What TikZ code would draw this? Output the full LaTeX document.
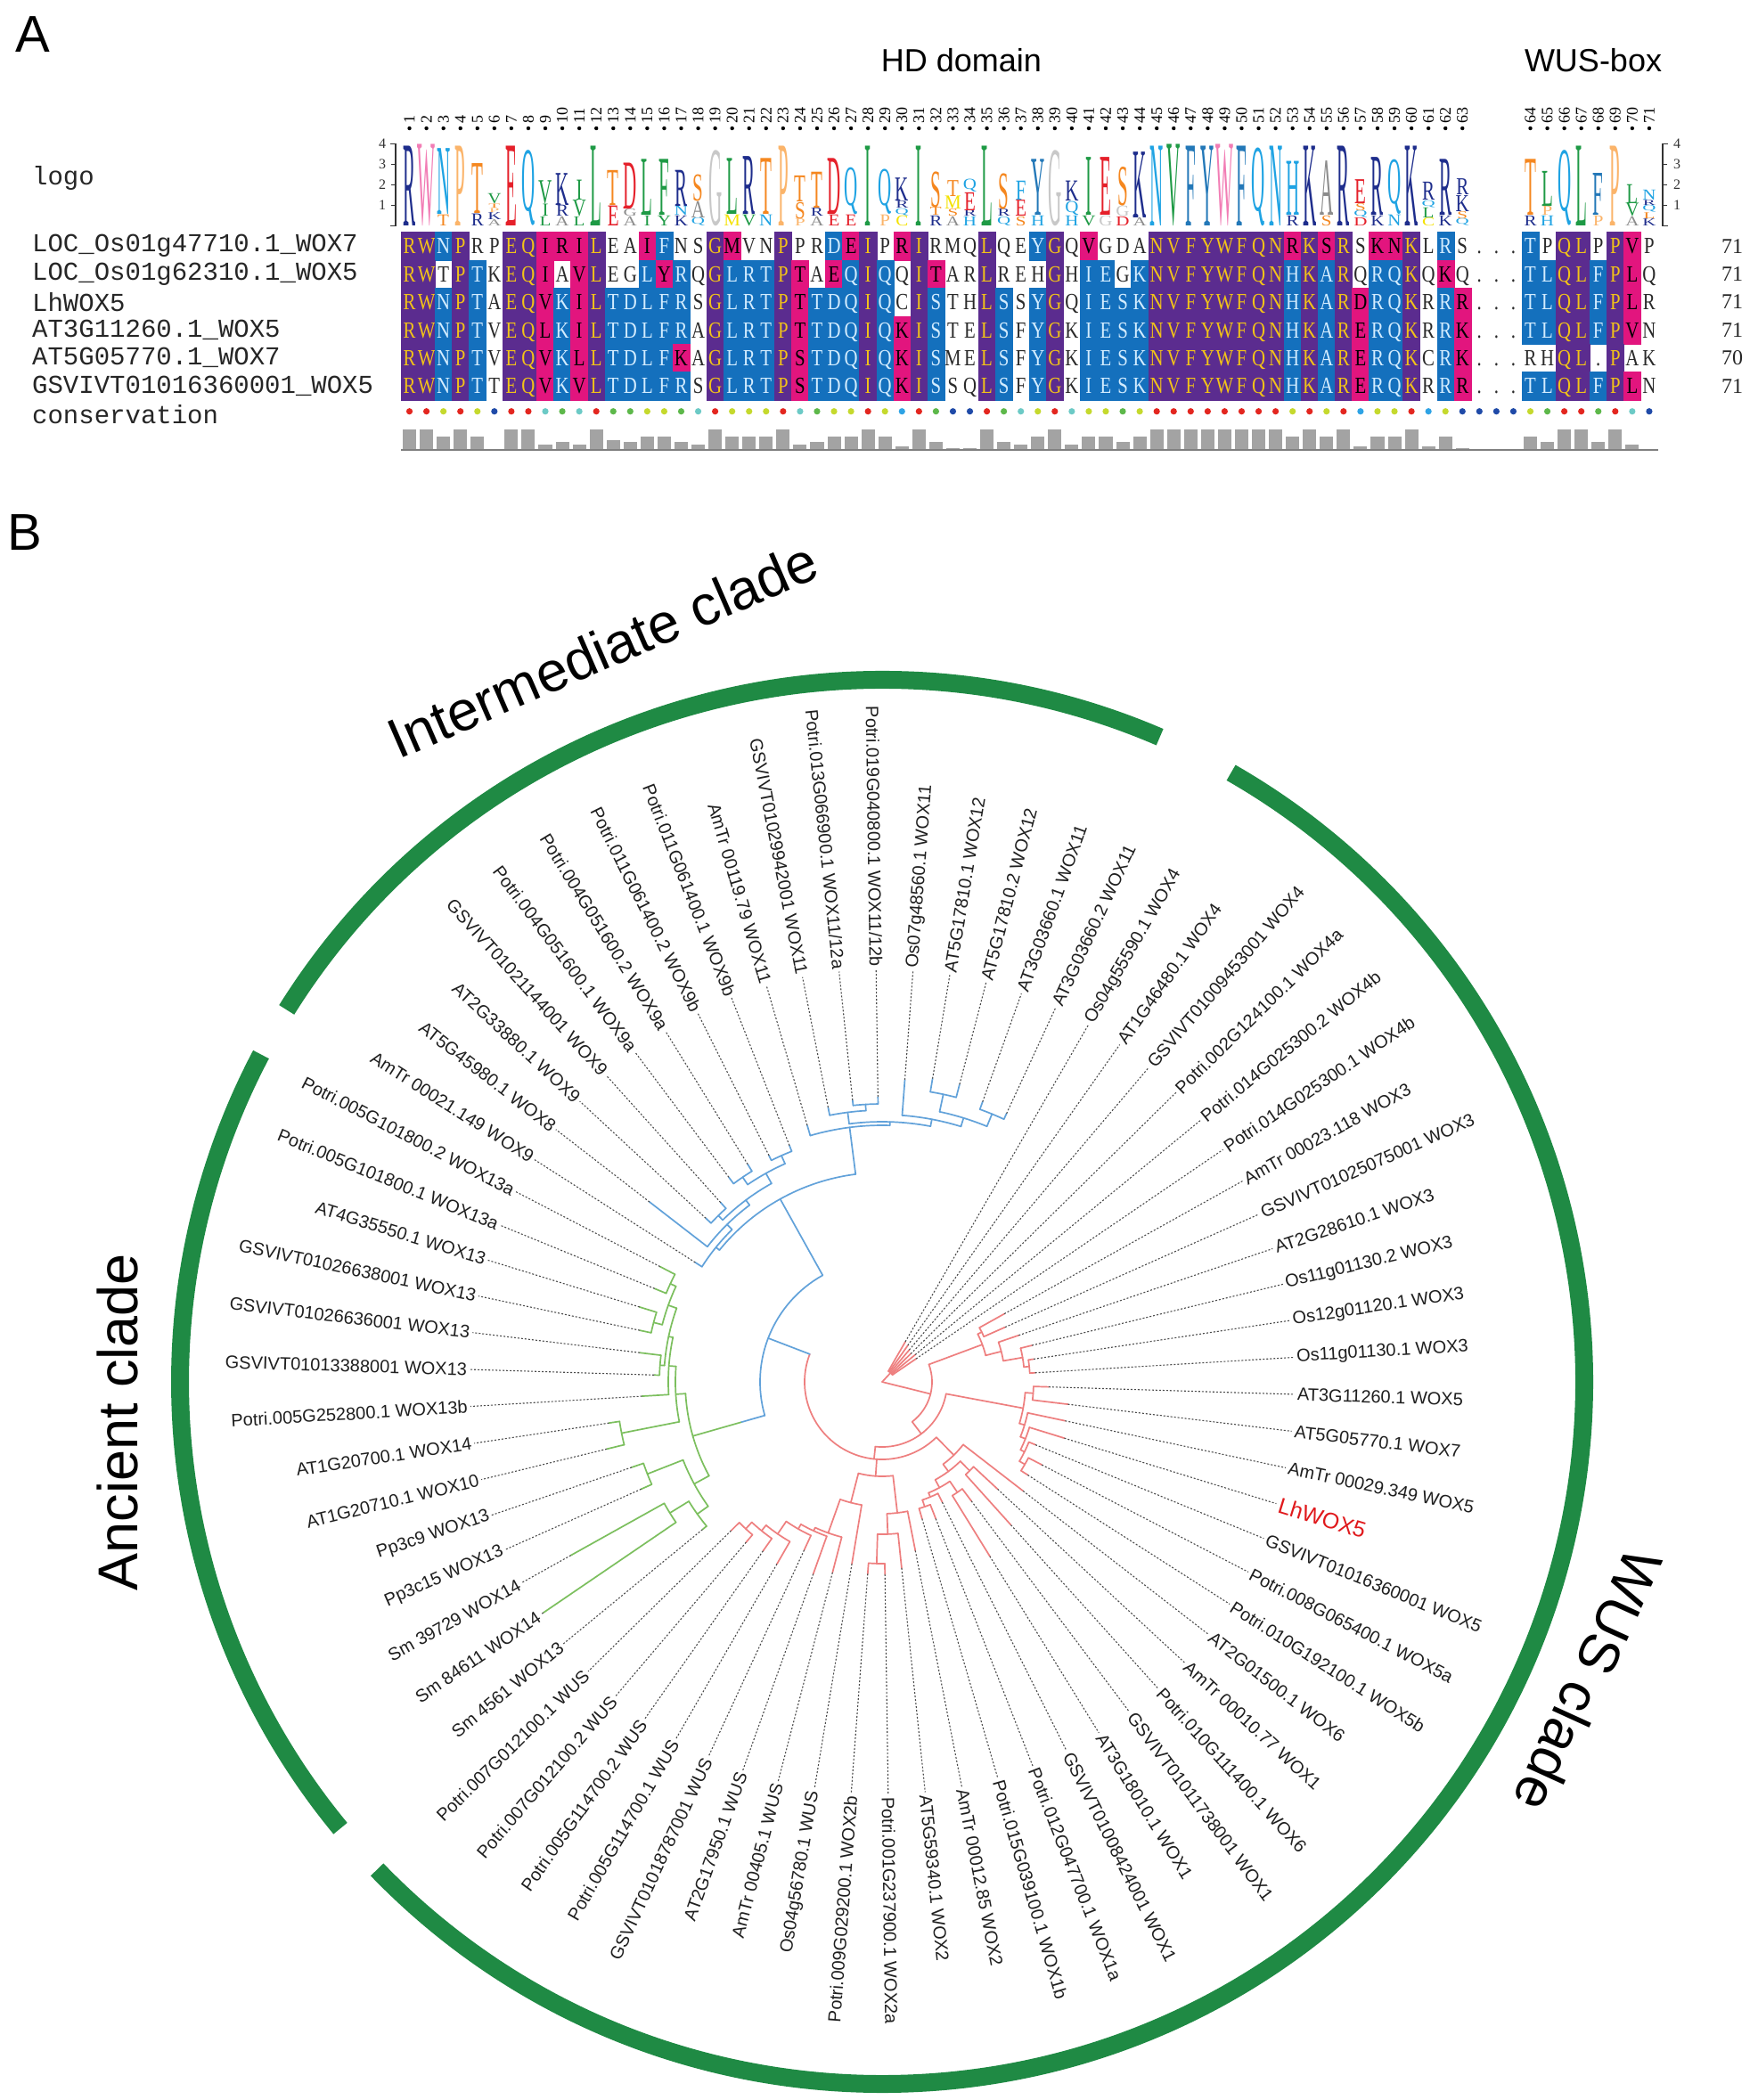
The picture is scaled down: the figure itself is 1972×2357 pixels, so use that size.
\documentclass[tikz,border=0pt]{standalone}
\usepackage{fontspec}
\usepackage{graphicx}
\setmainfont{Liberation Serif}
\newfontfamily\sansf{Liberation Sans}
\newfontfamily\monof{Liberation Mono}
% alignment colours
\definecolor{alP}{HTML}{5B2C8F}
\definecolor{alB}{HTML}{1470BD}
\definecolor{alM}{HTML}{E2157E}
\definecolor{alPt}{HTML}{F2C318}
\definecolor{alBt}{HTML}{D2ECFF}
\definecolor{alWt}{HTML}{2A2A2A}
% logo colours
\definecolor{lgnv}{HTML}{1E2D8C}
\definecolor{lgpk}{HTML}{F27DB5}
\definecolor{lglb}{HTML}{1FA3E3}
\definecolor{lgor}{HTML}{F5871F}
\definecolor{lglo}{HTML}{FBB46A}
\definecolor{lgrd}{HTML}{E5202A}
\definecolor{lggn}{HTML}{1E9A45}
\definecolor{lgmb}{HTML}{2378B8}
\definecolor{lggy}{HTML}{8C8C8C}
\definecolor{lglg}{HTML}{C8C8C8}
\definecolor{lgyl}{HTML}{F4E200}
% conservation dots
\definecolor{dR}{HTML}{E3261F}
\definecolor{dY}{HTML}{C5D92D}
\definecolor{dG}{HTML}{5DB84A}
\definecolor{dT}{HTML}{6CCAC6}
\definecolor{dL}{HTML}{2EA3E5}
\definecolor{dB}{HTML}{1F4AA8}
\definecolor{bargy}{HTML}{A3A3A3}
% tree
\definecolor{trR}{HTML}{EE7F7F}
\definecolor{trB}{HTML}{62A2DA}
\definecolor{trG}{HTML}{7CBF5E}
\definecolor{cladegreen}{HTML}{1F8A44}
\definecolor{lhred}{HTML}{E0191C}

\newcommand\alfont{\fontsize{26bp}{28bp}\selectfont}
\newcount\slotc

\tikzset{
  cellP/.style={fill=alP,draw=alP,line width=.3bp},
  cellB/.style={fill=alB,draw=alB,line width=.3bp},
  cellM/.style={fill=alM,draw=alM,line width=.3bp},
  cellW/.style={},
  cellG/.style={},
  txtP/.style={text=alPt},
  txtB/.style={text=alBt},
  txtM/.style={text=black},
  txtW/.style={text=alWt},
  txtG/.style={text=alWt},
  rowlab/.style={font=\monof\fontsize{29bp}{31bp}\selectfont,anchor=west,inner sep=0pt,text=black!85},
  rb/.style={draw=trR,line width=1.7bp,line cap=round},
  bb/.style={draw=trB,line width=1.7bp,line cap=round},
  gb/.style={draw=trG,line width=1.7bp,line cap=round},
  dotl/.style={draw=black!70,line width=1.1bp,dash pattern=on 2bp off 2bp},
  leaflab/.style={font=\sansf\fontsize{20bp}{24bp}\selectfont,inner sep=1bp,text=black!88},
  cladearc/.style={draw=cladegreen,line width=20bp},
  cladelab/.style={font=\sansf\fontsize{63bp}{66bp}\selectfont,inner sep=0pt,text=black},
}

% one alignment cell
\newcommand\alcell[2]{%
  \pgfmathsetmacro\cx{450+(\the\slotc-1)*19.06}%
  \pgfmathsetmacro\cy{-260.5-(\rowc-1)*31.4}%
  \path[cell#2] (\cx,\cy) rectangle ++(19.06,-31.4);%
  \node[txt#2,anchor=base,inner sep=0pt] (a\rowc-\the\slotc) at (\cx+9.53,\cy-24.3) {\alfont\scalebox{0.8}[1]{#1}};%
}
\def\alnext#1#2\relax#3#4\relax{%
  \global\advance\slotc by 1
  \alcell{#1}{#3}%
  \ifx\relax#2\relax\else\alnext#2\relax#4\relax\fi}
\newcommand\alrow[3]{\global\slotc=0 \def\rowc{#1}\alnext#2\relax#3\relax}

% one logo column, letters bottom to top: letter/colour/bits
\newcommand\lcol[2]{%
  \gdef\lcum{0}%
  \foreach \lL/\lC/\lH in {#2}{%
    \pgfmathsetmacro\ly{-253.3+\lcum*22.9}%
    \def\lratio{0.67}\if Q\lL\def\lratio{0.86}\fi
    \pgfmathsetmacro\lF{\lH*22.9/\lratio}%
    \pgfmathsetmacro\lsx{21/\lF}%
    \node[inner sep=0pt,anchor=base] (lg#1\lL) at ({450+(#1-0.5)*19.06},\ly)
      {\scalebox{\lsx}[1]{\raisebox{\depth}{\textcolor{lg\lC}{\fontsize{\lF bp}{\lF bp}\selectfont\lL}}}};%
    \pgfmathsetmacro\tmp{\lcum+\lH}\global\let\lcum\tmp
  }}

% tree helpers (inside shifted scope)
\newcommand\tb[4]{\draw[#1] (#2:#3) -- (#2:#4);}
\newcommand\ta[4]{\draw[#1] (#3:#2) arc[start angle=#3,end angle=#4,radius=#2];}
\newcommand\lR[4]{\draw[dotl] (#2:#3) -- (#2:463); \node[leaflab,anchor=west,rotate=#2] (#1) at (#2:465) {#4};}
\newcommand\lL[4]{\draw[dotl] (#2:#3) -- (#2:463); \node[leaflab,anchor=east,rotate=#2+180] (#1) at (#2:465) {#4};}

\begin{document}
\begin{tikzpicture}[x=1bp,y=1bp]
\useasboundingbox (0,0) rectangle (1972,-2357);
\fill[white] (0,0) rectangle (1972,-2357);

% ================= Panel A =================
\node[font=\sansf\fontsize{58bp}{60bp}\selectfont,inner sep=0pt] (tA) at (37,-39) {A};
\node[font=\sansf\fontsize{36bp}{40bp}\selectfont,inner sep=0pt] (hd) at (1079,-68) {HD domain};
\node[font=\sansf\fontsize{36bp}{40bp}\selectfont,inner sep=0pt] (wb) at (1788,-68) {WUS-box};

% column numbers
\foreach \n in {1,...,71}{
  \pgfmathsetmacro\csl{\n>63 ? \n+3 : \n}
  \fill[black] ({450+(\csl-0.5)*19.06},-144) circle (2.2);
  \node[font=\fontsize{18bp}{20bp}\selectfont,rotate=90,anchor=west,inner sep=0pt] (cn\n) at ({450+(\csl-0.5)*19.06},-139) {\n};
}

% logo axes
\draw[black!80,line width=1.2bp] (438,-161.7) -- (444,-161.7) -- (444,-253.3) -- (438,-253.3);
\draw[black!80,line width=1.2bp] (1872,-161.7) -- (1866,-161.7) -- (1866,-253.3) -- (1872,-253.3);
\foreach \k in {1,2,3}{
  \draw[black!80,line width=1.2bp] (439,{-253.3+\k*22.9}) -- (444,{-253.3+\k*22.9});
  \draw[black!80,line width=1.2bp] (1866,{-253.3+\k*22.9}) -- (1871,{-253.3+\k*22.9});
}
\foreach \k in {1,...,4}{
  \node[font=\fontsize{16bp}{18bp}\selectfont,inner sep=0pt,text=black!80] (axl\k) at (429,{-253.3+\k*22.9}) {\k};
  \node[font=\fontsize{16bp}{18bp}\selectfont,inner sep=0pt,text=black!80] (axr\k) at (1882,{-253.3+\k*22.9}) {\k};
}

% sequence logo
\lcol{1}{R/nv/4.0}
\lcol{2}{W/pk/4.0}
\lcol{3}{T/or/0.55,N/lb/3.3}
\lcol{4}{P/lo/4.0}
\lcol{5}{R/nv/0.6,T/or/2.5}
\lcol{6}{A/gy/0.3,K/nv/0.35,P/lo/0.2,T/or/0.2,V/gn/0.5}
\lcol{7}{E/rd/4.0}
\lcol{8}{Q/lb/3.85}
\lcol{9}{L/gn/0.45,I/gn/0.6,V/gn/1.15}
\lcol{10}{A/gy/0.45,R/nv/0.55,K/nv/1.6}
\lcol{11}{L/gn/0.45,V/gn/0.8,I/gn/1.0}
\lcol{12}{L/gn/4.0}
\lcol{13}{E/rd/1.0,T/or/1.75}
\lcol{14}{A/gy/0.45,G/gy/0.35,D/rd/2.3}
\lcol{15}{I/gn/0.5,L/gn/2.8}
\lcol{16}{Y/gn/0.5,F/gn/2.8}
\lcol{17}{K/nv/0.5,N/lb/0.45,R/nv/1.8}
\lcol{18}{Q/lb/0.4,A/gy/0.8,S/or/1.3}
\lcol{19}{G/lg/3.7}
\lcol{20}{M/yl/0.55,L/gn/2.8}
\lcol{21}{V/gn/0.55,R/nv/2.9}
\lcol{22}{N/lb/0.55,T/or/2.8}
\lcol{23}{P/lo/4.0}
\lcol{24}{P/lo/0.35,S/or/0.8,T/or/1.3}
\lcol{25}{A/gy/0.45,R/nv/0.4,T/or/1.8}
\lcol{26}{E/rd/0.55,D/rd/2.8}
\lcol{27}{E/rd/0.55,Q/lb/2.4}
\lcol{28}{I/gn/4.0}
\lcol{29}{P/lo/0.55,Q/lb/2.3}
\lcol{30}{C/yl/0.5,Q/lb/0.35,R/nv/0.35,K/nv/1.15}
\lcol{31}{I/gn/4.0}
\lcol{32}{R/nv/0.5,T/or/0.4,S/or/1.75}
\lcol{33}{A/gy/0.45,S/or/0.35,M/yl/0.65,T/or/0.8}
\lcol{34}{H/lb/0.45,R/nv/0.3,E/rd/0.9,Q/lb/0.65}
\lcol{35}{L/gn/4.0}
\lcol{36}{Q/lb/0.45,R/nv/0.35,S/or/1.75}
\lcol{37}{S/or/0.45,E/rd/0.8,F/lb/0.95}
\lcol{38}{H/lb/0.5,Y/mb/2.8}
\lcol{39}{G/lg/3.7}
\lcol{40}{H/lb/0.5,Q/lb/0.7,K/nv/1.0}
\lcol{41}{V/gn/0.5,I/gn/2.9}
\lcol{42}{G/lg/0.5,E/rd/2.9}
\lcol{43}{D/rd/0.45,G/lg/0.5,S/or/1.9}
\lcol{44}{A/gy/0.4,K/nv/3.3}
\lcol{45}{N/lb/4.0}
\lcol{46}{V/gn/4.0}
\lcol{47}{F/mb/4.0}
\lcol{48}{Y/mb/4.0}
\lcol{49}{W/pk/4.0}
\lcol{50}{F/mb/4.0}
\lcol{51}{Q/lb/4.0}
\lcol{52}{N/lb/4.0}
\lcol{53}{R/nv/0.5,H/lb/2.7}
\lcol{54}{K/nv/4.0}
\lcol{55}{S/or/0.5,A/gy/2.7}
\lcol{56}{R/nv/4.0}
\lcol{57}{D/rd/0.4,Q/lb/0.35,S/or/0.35,E/rd/1.2}
\lcol{58}{K/nv/0.5,R/nv/2.9}
\lcol{59}{N/lb/0.55,Q/lb/2.8}
\lcol{60}{K/nv/4.0}
\lcol{61}{C/yl/0.4,L/gn/0.5,Q/lb/0.35,R/nv/0.9}
\lcol{62}{K/nv/0.5,R/nv/2.8}
\lcol{63}{Q/lb/0.35,S/or/0.35,K/nv/0.8,R/nv/0.8}
\lcol{67}{R/nv/0.5,T/or/2.8}
\lcol{68}{H/lb/0.5,P/lo/0.45,L/gn/1.75}
\lcol{69}{Q/lb/3.85}
\lcol{70}{L/gn/4.0}
\lcol{71}{P/lo/0.5,F/mb/2.1}
\lcol{72}{P/lo/4.0}
\lcol{73}{A/gy/0.45,V/gn/0.65,L/gn/0.95}
\lcol{74}{K/nv/0.35,L/or/0.3,Q/lb/0.35,R/nv/0.25,N/lb/0.5}

% alignment rows
\alrow{1}{RWNPRPEQIR ILEAIFNSGM VNPPRDEIPR IRMQLQEYGQ VGDANVFYWF QNRKSRSKNK LRS ... TPQLPPVP}%
         {PPBPWWPPMM MPWWMBWWPM WWPWWBMPWM PWWWPWWBPW MWWWPPPPPP PPMPMPWMMP WBW GGG BWPPWPMW}
\alrow{2}{RWTPTKEQIA VLEGLYRQGL RTPTAEQIQQ ITARLREHGH IEGKNVFYWF QNHKARQRQK QKQ ... TLQLFPLQ}%
         {PPWPBWPPMW MPWWBMBWPB BBPMWMBPBW PMWWPWWWPW BBWBPPPPPP PPBPBPWBBP WMW GGG BBPPBPMW}
\alrow{3}{RWNPTAEQVK ILTDLFRSGL RTPTTDQIQC ISTHLSSYGQ IESKNVFYWF QNHKARDRQK RRR ... TLQLFPLR}%
         {PPBPBWPPMB MPBBBBBWPB BBPMBBBPBW PBWWPBWBPW BBBBPPPPPP PPBPBPMBBP WBM GGG BBPPBPMW}
\alrow{4}{RWNPTVEQLK ILTDLFRAGL RTPTTDQIQK ISTELSFYGK IESKNVFYWF QNHKARERQK RRK ... TLQLFPVN}%
         {PPBPBWPPMB MPBBBBBWPB BBPMBBBPBM PBWWPBWBPW BBBBPPPPPP PPBPBPMBBP WBM GGG BBPPBPMW}
\alrow{5}{RWNPTVEQVK LLTDLFKAGL RTPSTDQIQK ISMELSFYGK IESKNVFYWF QNHKARERQK CRK ... RHQL.PAK}%
         {PPBPBWPPMB MPBBBBMWPB BBPMBBBPBM PBWWPBWBPW BBBBPPPPPP PPBPBPMBBP WBM GGG WWPPWPWW}
\alrow{6}{RWNPTTEQVK VLTDLFRSGL RTPSTDQIQK ISSQLSFYGK IESKNVFYWF QNHKARERQK RRR ... TLQLFPLN}%
         {PPBPBWPPMB MPBBBBBWPB BBPMBBBPBM PBWWPBWBPW BBBBPPPPPP PPBPBPMBBP WBM GGG BBPPBPMW}

% row labels and lengths
\node[rowlab] (lblogo) at (36,-200) {logo};
\node[rowlab] (rl1) at (36,-276.2) {LOC\_Os01g47710.1\_WOX7};
\node[rowlab] (rl2) at (36,-307.6) {LOC\_Os01g62310.1\_WOX5};
\node[rowlab] (rl3) at (36,-339.0) {LhWOX5};
\node[rowlab] (rl4) at (36,-370.4) {AT3G11260.1\_WOX5};
\node[rowlab] (rl5) at (36,-401.8) {AT5G05770.1\_WOX7};
\node[rowlab] (rl6) at (36,-433.2) {GSVIVT01016360001\_WOX5};
\node[rowlab] (lbcons) at (36,-465) {conservation};
\foreach \v/\yy [count=\i] in {71/276.2,71/307.6,71/339.0,71/370.4,70/401.8,71/433.2}
  \node[font=\fontsize{24bp}{26bp}\selectfont,inner sep=0pt,text=black!85] (len\i) at (1944,-\yy) {\v};

% conservation dots
\foreach \c [count=\s] in {R,R,Y,R,Y,B,R,R,T,G,T,R,G,G,Y,Y,G,T,R,Y,Y,Y,R,T,G,Y,Y,R,Y,L,R,G,B,B,R,G,T,Y,R,T,Y,Y,G,Y,R,R,R,R,R,R,R,R,Y,R,Y,R,L,Y,Y,R,L,Y,B,B,B,B,Y,G,R,R,G,R,T,B}
  \fill[d\c] ({450+(\s-0.5)*19.06},-461.7) circle (3.6);

% conservation bars
\foreach \h [count=\s] in {1,1,.64,1,.64,.04,1,1,.24,.39,.24,1,.46,.39,.64,.64,.39,.24,1,.64,.64,.64,1,.24,.39,.64,.64,1,.64,.19,1,.39,.1,.1,1,.39,.24,.64,1,.24,.64,.64,.39,.64,1,1,1,1,1,1,1,1,.64,1,.64,1,.19,.64,.64,1,.19,.64,.1,0,0,0,.64,.39,1,1,.39,1,.24,.04}
  \fill[bargy] ({450+(\s-1)*19.06+2},-505) rectangle ++(15.06,{\h*23.3});
\draw[black!50,line width=2bp] (450,-505) -- (1861,-505);

% ================= Panel B =================
\node[font=\sansf\fontsize{58bp}{60bp}\selectfont,inner sep=0pt] (tB) at (28,-598) {B};

\begin{scope}[shift={(990,-1551)}]
% clade arcs
\draw[cladearc] (66.7:788) arc[start angle=66.7,end angle=148,radius=788];
\draw[cladearc] (152.2:788) arc[start angle=152.2,end angle=219.5,radius=788];
\draw[cladearc] (-136:788) arc[start angle=-136,end angle=60.2,radius=788];

% ---- root and red (WUS) clade ----
% fan of WOX4 leaves straight from the root
\tb{rb}{47}{0}{14}
\ta{rb}{14}{34.27}{59.99}
\tb{rb}{59.99}{14}{52}
\tb{rb}{54.84}{14}{50}
\tb{rb}{49.70}{14}{47}
\tb{rb}{44.56}{14}{45}
\tb{rb}{39.41}{14}{48}
\tb{rb}{34.27}{14}{46}
% X node
\tb{rb}{-14}{0}{56}
\ta{rb}{56}{-53}{20.45}
\tb{rb}{20.45}{56}{120}
\tb{rb}{-53}{56}{73}
% WOX3 group
\ta{rb}{120}{14.35}{26.56}
\tb{rb}{26.56}{120}{125}
\tb{rb}{14.35}{120}{138}
\ta{rb}{125}{23.99}{29.13}
\tb{rb}{29.13}{125}{157}
\tb{rb}{23.99}{125}{151}
\ta{rb}{138}{9.85}{18.84}
\tb{rb}{18.84}{138}{162}
\tb{rb}{9.85}{138}{160}
\ta{rb}{160}{5.99}{13.70}
\tb{rb}{13.70}{160}{173}
\tb{rb}{5.99}{160}{166}
\ta{rb}{166}{3.41}{8.56}
\tb{rb}{8.56}{166}{172}
\tb{rb}{3.41}{166}{172}
% P node
\ta{rb}{73}{-96}{-10.57}
\tb{rb}{-10.57}{73}{161}
\tb{rb}{-96}{73}{87}
% WOX5 group
\ta{rb}{161}{-16.84}{-4.3}
\tb{rb}{-4.3}{161}{170}
\tb{rb}{-16.84}{161}{167}
\ta{rb}{170}{-6.87}{-1.73}
\tb{rb}{-1.73}{170}{187}
\tb{rb}{-6.87}{170}{210}
\ta{rb}{167}{-21.66}{-12.01}
\tb{rb}{-12.01}{167}{210}
\tb{rb}{-21.66}{167}{173}
\ta{rb}{173}{-26.16}{-17.16}
\tb{rb}{-17.16}{173}{214}
\tb{rb}{-26.16}{173}{178}
\ta{rb}{178}{-30.02}{-22.30}
\tb{rb}{-22.30}{178}{186}
\tb{rb}{-30.02}{178}{185}
\ta{rb}{185}{-32.59}{-27.44}
\tb{rb}{-27.44}{185}{202}
\tb{rb}{-32.59}{185}{194}
% Q node
\ta{rb}{87}{-201}{-45.6}
\tb{bb}{159}{87}{137}
\tb{rb}{-93.96}{87}{106}
\tb{rb}{-45.6}{87}{115}
% WOX1 / WOX6 group
\ta{rb}{115}{-53.48}{-37.73}
\tb{rb}{-37.73}{115}{200}
\tb{rb}{-53.48}{115}{125}
\ta{rb}{125}{-61.52}{-45.44}
\tb{rb}{-45.44}{125}{140}
\tb{rb}{-61.52}{125}{135}
\ta{rb}{140}{-48.01}{-42.87}
\tb{rb}{-42.87}{140}{177}
\tb{rb}{-48.01}{140}{216}
\ta{rb}{135}{-67.3}{-55.73}
\tb{rb}{-55.73}{135}{150}
\tb{rb}{-67.3}{135}{140}
\ta{rb}{150}{-58.30}{-53.16}
\tb{rb}{-53.16}{150}{167}
\tb{rb}{-58.30}{150}{230}
\ta{rb}{140}{-71.16}{-63.44}
\tb{rb}{-63.44}{140}{151}
\tb{rb}{-71.16}{140}{148}
\ta{rb}{148}{-73.73}{-68.59}
\tb{rb}{-68.59}{148}{165}
\tb{rb}{-73.73}{148}{160}
% WOX2 / WUS group
\ta{rb}{106}{-104.55}{-83.37}
\tb{rb}{-83.37}{106}{148}
\tb{rb}{-104.55}{106}{140}
\ta{rb}{148}{-87.87}{-78.87}
\tb{rb}{-78.87}{148}{193}
\tb{rb}{-87.87}{148}{171}
\ta{rb}{171}{-91.73}{-84.01}
\tb{rb}{-84.01}{171}{210}
\tb{rb}{-91.73}{171}{204}
\ta{rb}{204}{-94.30}{-89.16}
\tb{rb}{-89.16}{204}{216}
\tb{rb}{-94.30}{204}{216}
\ta{rb}{140}{-109.65}{-99.44}
\tb{rb}{-99.44}{140}{207}
\tb{rb}{-109.65}{140}{180}
\ta{rb}{180}{-114.7}{-104.59}
\tb{rb}{-104.59}{180}{221}
\tb{rb}{-114.7}{180}{184}
\ta{rb}{184}{-119.7}{-109.73}
\tb{rb}{-109.73}{184}{229}
\tb{rb}{-119.7}{184}{190}
\ta{rb}{190}{-124.5}{-114.87}
\tb{rb}{-114.87}{190}{208}
\tb{rb}{-124.5}{190}{207}
\ta{rb}{207}{-129.0}{-120.01}
\tb{rb}{-120.01}{207}{236}
\tb{rb}{-129.0}{207}{215}
\ta{rb}{215}{-132.87}{-125.16}
\tb{rb}{-125.16}{215}{232}
\tb{rb}{-132.87}{215}{225}
\ta{rb}{225}{-135.44}{-130.30}
\tb{rb}{-130.30}{225}{236}
\tb{rb}{-135.44}{225}{238}

% ---- blue (intermediate) + green (ancient) ----
\ta{bb}{137}{119.14}{195.96}
\tb{bb}{195.96}{137}{165}
\tb{gb}{195.96}{165}{221}
\tb{bb}{119.14}{137}{235}
% green
\ta{gb}{221}{183.42}{208.49}
\tb{gb}{183.42}{221}{232}
\tb{gb}{208.49}{221}{240}
\ta{gb}{240}{201.42}{215.56}
\tb{gb}{201.42}{240}{283}
\tb{gb}{215.56}{240}{255}
\ta{gb}{283}{198.84}{203.99}
\tb{gb}{198.84}{283}{297}
\tb{gb}{203.99}{283}{296}
\ta{gb}{255}{211.70}{219.41}
\tb{gb}{219.41}{255}{261}
\tb{gb}{211.70}{255}{280}
\ta{gb}{280}{209.13}{214.27}
\tb{gb}{214.27}{280}{460}
\tb{gb}{209.13}{280}{400}
\ta{gb}{232}{175.70}{191.13}
\tb{gb}{191.13}{232}{298}
\tb{gb}{175.70}{232}{240}
\ta{gb}{298}{188.56}{193.70}
\tb{gb}{193.70}{298}{318}
\tb{gb}{188.56}{298}{310}
\ta{gb}{240}{167.99}{183.41}
\tb{gb}{183.41}{240}{270}
\tb{gb}{167.99}{240}{245}
\ta{gb}{245}{160.27}{175.70}
\tb{gb}{175.70}{245}{250}
\tb{gb}{160.27}{245}{255}
\ta{gb}{250}{173.13}{178.27}
\tb{gb}{178.27}{250}{256}
\tb{gb}{173.13}{250}{274}
\ta{gb}{255}{155.13}{165.42}
\tb{gb}{165.42}{255}{265}
\tb{gb}{155.13}{255}{262}
\ta{gb}{265}{162.84}{167.99}
\tb{gb}{167.99}{265}{278}
\tb{gb}{162.84}{265}{285}
\ta{gb}{262}{152.56}{157.70}
\tb{gb}{157.70}{262}{276}
\tb{gb}{152.56}{262}{281}
% blue
\ta{bb}{235}{97.28}{140.99}
\tb{bb}{140.99}{235}{240}
\tb{bb}{97.28}{235}{288}
\ta{bb}{240}{134.56}{147.41}
\tb{bb}{147.41}{240}{249}
\tb{bb}{134.56}{240}{248}
\ta{bb}{248}{126.85}{142.27}
\tb{bb}{142.27}{248}{330}
\tb{bb}{126.85}{248}{255}
\ta{bb}{255}{119.13}{134.56}
\tb{bb}{134.56}{255}{262}
\tb{bb}{119.13}{255}{268}
\ta{bb}{262}{131.99}{137.13}
\tb{bb}{137.13}{262}{270}
\tb{bb}{131.99}{262}{271}
\ta{bb}{268}{113.99}{124.27}
\tb{bb}{124.27}{268}{278}
\tb{bb}{113.99}{268}{278}
\ta{bb}{278}{121.70}{126.84}
\tb{bb}{121.70}{278}{287}
\tb{bb}{126.84}{278}{287}
\ta{bb}{278}{111.41}{116.56}
\tb{bb}{116.56}{278}{284}
\tb{bb}{111.41}{278}{285}
\ta{bb}{288}{88.28}{106.27}
\tb{bb}{106.27}{288}{300}
\tb{bb}{88.28}{288}{292}
\ta{bb}{292}{79.28}{97.28}
\tb{bb}{97.28}{292}{305}
\tb{bb}{79.28}{292}{300}
\ta{bb}{305}{93.42}{101.13}
\tb{bb}{101.13}{305}{314}
\tb{bb}{93.42}{305}{312}
\ta{bb}{312}{90.84}{95.99}
\tb{bb}{95.99}{312}{318}
\tb{bb}{90.84}{312}{320}
\ta{bb}{300}{72.85}{85.70}
\tb{bb}{85.70}{300}{340}
\tb{bb}{72.85}{300}{310}
\ta{bb}{310}{67.70}{77.99}
\tb{bb}{77.99}{310}{330}
\tb{bb}{67.70}{310}{325}
\ta{bb}{330}{75.41}{80.56}
\tb{bb}{80.56}{330}{345}
\tb{bb}{75.41}{330}{345}
\ta{bb}{325}{65.13}{70.27}
\tb{bb}{70.27}{325}{334}
\tb{bb}{65.13}{325}{332}

% ---- leaves ----
\lR{lf1}{85.70}{340}{Os07g48560.1 WOX11}
\lR{lf2}{80.56}{345}{AT5G17810.1 WOX12}
\lR{lf3}{75.41}{345}{AT5G17810.2 WOX12}
\lR{lf4}{70.27}{334}{AT3G03660.1 WOX11}
\lR{lf5}{65.13}{332}{AT3G03660.2 WOX11}
\lR{lf6}{59.99}{52}{Os04g55590.1 WOX4}
\lR{lf7}{54.84}{50}{AT1G46480.1 WOX4}
\lR{lf8}{49.70}{47}{GSVIVT01009453001 WOX4}
\lR{lf9}{44.56}{45}{Potri.002G124100.1 WOX4a}
\lR{lf10}{39.41}{48}{Potri.014G025300.2 WOX4b}
\lR{lf11}{34.27}{46}{Potri.014G025300.1 WOX4b}
\lR{lf12}{29.13}{157}{AmTr 00023.118 WOX3}
\lR{lf13}{23.99}{151}{GSVIVT01025075001 WOX3}
\lR{lf14}{18.84}{162}{AT2G28610.1 WOX3}
\lR{lf15}{13.70}{173}{Os11g01130.2 WOX3}
\lR{lf16}{8.56}{172}{Os12g01120.1 WOX3}
\lR{lf17}{3.41}{172}{Os11g01130.1 WOX3}
\lR{lf18}{-1.73}{187}{AT3G11260.1 WOX5}
\lR{lf19}{-6.87}{210}{AT5G05770.1 WOX7}
\lR{lf20}{-12.01}{210}{AmTr 00029.349 WOX5}
\draw[dotl] (-17.16:214) -- (-17.16:463);
\node[leaflab,anchor=west,rotate=-17.16,text=lhred,font=\sansf\fontsize{25bp}{28bp}\selectfont] (lf21) at (-17.16:465) {LhWOX5};
\lR{lf22}{-22.30}{186}{GSVIVT01016360001 WOX5}
\lR{lf23}{-27.44}{202}{Potri.008G065400.1 WOX5a}
\lR{lf24}{-32.59}{194}{Potri.010G192100.1 WOX5b}
\lR{lf25}{-37.73}{200}{AT2G01500.1 WOX6}
\lR{lf26}{-42.87}{177}{AmTr 00010.77 WOX1}
\lR{lf27}{-48.01}{216}{Potri.010G111400.1 WOX6}
\lR{lf28}{-53.16}{167}{GSVIVT01011738001 WOX1}
\lR{lf29}{-58.30}{230}{AT3G18010.1 WOX1}
\lR{lf30}{-63.44}{151}{GSVIVT01008424001 WOX1}
\lR{lf31}{-68.59}{165}{Potri.012G047700.1 WOX1a}
\lR{lf32}{-73.73}{160}{Potri.015G039100.1 WOX1b}
\lR{lf33}{-78.87}{193}{AmTr 00012.85 WOX2}
\lR{lf34}{-84.01}{210}{AT5G59340.1 WOX2}
\lR{lf35}{-89.16}{216}{Potri.001G237900.1 WOX2a}
\lL{lf36}{-94.30}{216}{Potri.009G029200.1 WOX2b}
\lL{lf37}{-99.44}{207}{Os04g56780.1 WUS}
\lL{lf38}{-104.59}{221}{AmTr 00405.1 WUS}
\lL{lf39}{-109.73}{229}{AT2G17950.1 WUS}
\lL{lf40}{-114.87}{208}{GSVIVT01018787001 WUS}
\lL{lf41}{-120.01}{236}{Potri.005G114700.1 WUS}
\lL{lf42}{-125.16}{232}{Potri.005G114700.2 WUS}
\lL{lf43}{-130.30}{236}{Potri.007G012100.2 WUS}
\lL{lf44}{-135.44}{238}{Potri.007G012100.1 WUS}
\lL{lf45}{219.41}{261}{Sm 4561 WOX13}
\lL{lf46}{214.27}{460}{Sm 84611 WOX14}
\lL{lf47}{209.13}{400}{Sm 39729 WOX14}
\lL{lf48}{203.99}{296}{Pp3c15 WOX13}
\lL{lf49}{198.84}{297}{Pp3c9 WOX13}
\lL{lf50}{193.70}{318}{AT1G20710.1 WOX10}
\lL{lf51}{188.56}{310}{AT1G20700.1 WOX14}
\lL{lf52}{183.41}{270}{Potri.005G252800.1 WOX13b}
\lL{lf53}{178.27}{256}{GSVIVT01013388001 WOX13}
\lL{lf54}{173.13}{274}{GSVIVT01026636001 WOX13}
\lL{lf55}{167.99}{278}{GSVIVT01026638001 WOX13}
\lL{lf56}{162.84}{285}{AT4G35550.1 WOX13}
\lL{lf57}{157.70}{276}{Potri.005G101800.1 WOX13a}
\lL{lf58}{152.56}{281}{Potri.005G101800.2 WOX13a}
\lL{lf59}{147.41}{249}{AmTr 00021.149 WOX9}
\lL{lf60}{142.27}{330}{AT5G45980.1 WOX8}
\lL{lf61}{137.13}{270}{AT2G33880.1 WOX9}
\lL{lf62}{131.99}{271}{GSVIVT01021144001 WOX9}
\lL{lf63}{126.84}{287}{Potri.004G051600.1 WOX9a}
\lL{lf64}{121.70}{287}{Potri.004G051600.2 WOX9a}
\lL{lf65}{116.56}{284}{Potri.011G061400.2 WOX9b}
\lL{lf66}{111.41}{285}{Potri.011G061400.1 WOX9b}
\lL{lf67}{106.27}{300}{AmTr 00119.79 WOX11}
\lL{lf68}{101.13}{314}{GSVIVT01029942001 WOX11}
\lL{lf69}{95.99}{318}{Potri.013G066900.1 WOX11/12a}
\lL{lf70}{90.84}{320}{Potri.019G040800.1 WOX11/12b}
\end{scope}

\node[cladelab,rotate=23.5] (ci) at (676,-729) {Intermediate clade};
\node[cladelab,rotate=90] (ca) at (132,-1596) {Ancient clade};
\node[cladelab,rotate=-114.5] (cw) at (1783,-1886) {WUS clade};
\end{tikzpicture}
\end{document}
